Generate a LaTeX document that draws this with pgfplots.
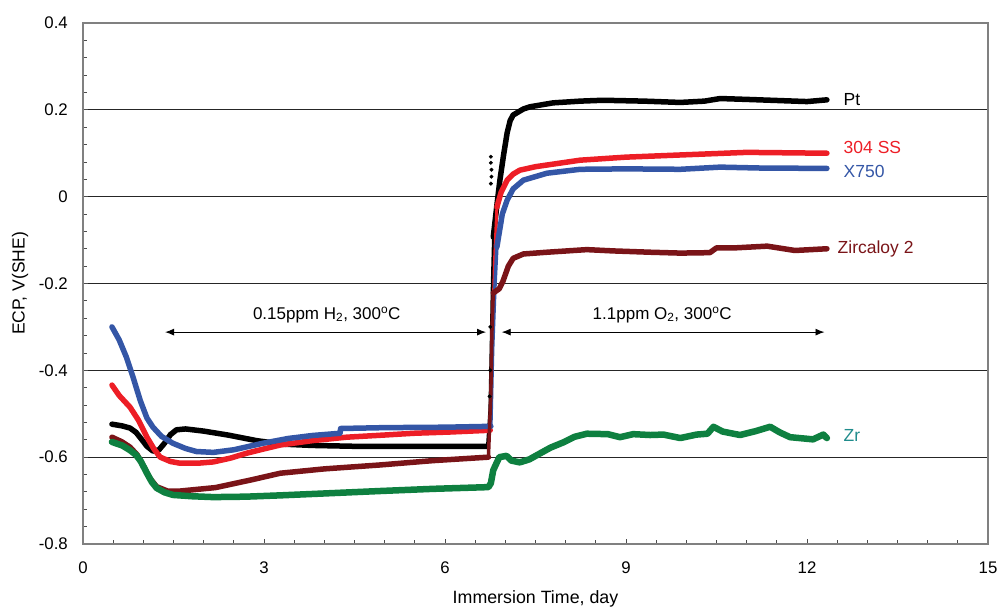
\documentclass[border=0pt]{standalone}
\usepackage{fontspec}
\setmainfont{Liberation Sans}
\usepackage{pgfplots}
\pgfplotsset{compat=1.18}
\usetikzlibrary{arrows.meta}
\definecolor{cred}{RGB}{237,30,38}
\definecolor{cblue}{RGB}{52,86,166}
\definecolor{cmaroon}{RGB}{122,20,24}
\definecolor{cgreen}{RGB}{14,128,64}
\definecolor{zrlab}{RGB}{32,140,140}
\begin{document}
\begin{tikzpicture}[font=\fontsize{17}{20}\selectfont]
\path[use as bounding box] (0,0) rectangle (997pt,607pt);
\begin{axis}[
  at={(83pt,63pt)}, anchor=south west,
  width=905pt, height=521pt, scale only axis,
  xmin=0, xmax=15, ymin=-0.8, ymax=0.4,
  xtick={0,3,6,9,12,15},
  ytick={-0.8,-0.6,-0.4,-0.2,0,0.2,0.4},
  minor x tick num=5, minor y tick num=4,
  major tick length=5pt, minor tick length=4pt,
  tick align=inside,
  xtick pos=bottom, ytick pos=left,
  ymajorgrids,
  grid style={black!85, line width=0.8pt},
  axis line style={black!50, line width=1.3pt},
  tick style={black!70, line width=0.8pt},
  /pgf/number format/assume math mode=true,
  tick label style={font=\fontsize{16.8}{20}\selectfont},
  yticklabel style={inner sep=0pt, anchor=east, xshift=-15pt},
  xticklabel style={inner sep=0pt, anchor=center, yshift=-24pt},
  xlabel={Immersion Time, day},
  ylabel={ECP, V(SHE)},
  xlabel style={at={(axis description cs:0.5,0)}, anchor=center, yshift=-55pt, font=\fontsize{17.8}{20}\selectfont},
  ylabel style={at={(axis description cs:0,0.5)}, anchor=center, yshift=63pt, font=\fontsize{17.5}{20}\selectfont},
  every axis plot/.append style={line join=round, line cap=round, no markers},
]
% Pt
\addplot[black, line width=5.5pt] coordinates {
(0.48,-0.524) (0.65,-0.528) (0.78,-0.533) (0.88,-0.543) (0.96,-0.557) (1.06,-0.575) (1.16,-0.586) (1.26,-0.583) (1.35,-0.568) (1.45,-0.548) (1.55,-0.537) (1.7,-0.535) (2.0,-0.540) (2.4,-0.549) (2.88,-0.562) (3.3,-0.570) (3.8,-0.573) (4.5,-0.575) (5.5,-0.575) (6.7,-0.575)
};
\addplot[black, line width=2.5pt] coordinates {
(6.7,-0.575) (6.74,-0.49) (6.76,-0.35) (6.78,-0.2) (6.8,-0.093)
};
\addplot[black, line width=5.5pt] coordinates {
(6.8,-0.093) (6.86,-0.02) (6.91,0.038) (6.97,0.095) (7.03,0.147) (7.08,0.175) (7.13,0.188) (7.3,0.202) (7.41,0.207) (7.79,0.216) (8.24,0.220) (8.62,0.222) (9.3,0.220) (9.9,0.217) (10.3,0.220) (10.56,0.226) (11.0,0.224) (11.6,0.221) (12.0,0.219) (12.33,0.223)
};
\addplot[black, only marks, mark=*, mark size=1.8pt] coordinates {
(6.76,0.092) (6.76,0.078) (6.77,0.062) (6.77,0.046) (6.76,0.03) (6.75,-0.3) (6.75,-0.4) (6.74,-0.46)
};
% 304 SS
\addplot[cred, line width=5.5pt] coordinates {
(0.48,-0.434) (0.6,-0.458) (0.78,-0.485) (0.92,-0.515) (1.06,-0.554) (1.18,-0.582) (1.28,-0.600) (1.45,-0.610) (1.61,-0.614) (1.9,-0.614) (2.16,-0.611) (2.45,-0.602) (2.71,-0.591) (3.0,-0.581) (3.27,-0.572) (3.8,-0.562) (4.37,-0.554) (5.0,-0.549) (5.48,-0.545) (6.1,-0.542) (6.75,-0.538)
};
\addplot[cred, line width=3pt] coordinates {
(6.75,-0.538) (6.78,-0.35) (6.82,-0.15) (6.86,-0.024)
};
\addplot[cred, line width=5.5pt] coordinates {
(6.86,-0.024) (6.93,0.01) (7.03,0.038) (7.13,0.052) (7.24,0.061) (7.5,0.069) (8.24,0.084) (9.0,0.091) (9.9,0.096) (11.0,0.102) (12.33,0.100)
};
% X750
\addplot[cblue, line width=5.5pt] coordinates {
(0.48,-0.300) (0.6,-0.33) (0.72,-0.37) (0.83,-0.416) (0.95,-0.47) (1.06,-0.51) (1.16,-0.531) (1.3,-0.552) (1.49,-0.568) (1.7,-0.580) (1.88,-0.587) (2.16,-0.589) (2.5,-0.583) (2.98,-0.568) (3.4,-0.557) (3.81,-0.550) (4.26,-0.545) (4.27,-0.534) (5.0,-0.532) (6.0,-0.531) (6.76,-0.529)
};
\addplot[cblue, line width=3.5pt] coordinates {
(6.76,-0.529) (6.79,-0.35) (6.83,-0.2) (6.86,-0.116)
};
\addplot[cblue, line width=5.5pt] coordinates {
(6.86,-0.116) (6.95,-0.04) (7.03,-0.008) (7.13,0.018) (7.3,0.038) (7.69,0.054) (8.24,0.063) (9.0,0.064) (9.9,0.063) (10.56,0.068) (11.2,0.066) (12.33,0.065)
};
% Zircaloy 2
\addplot[cmaroon, line width=5.5pt] coordinates {
(0.48,-0.554) (0.65,-0.565) (0.78,-0.577) (0.9,-0.595) (1.0,-0.62) (1.1,-0.647) (1.22,-0.668) (1.4,-0.678) (1.61,-0.678) (2.2,-0.670) (2.8,-0.652) (3.27,-0.637) (4.0,-0.627) (4.92,-0.618) (5.8,-0.608) (6.72,-0.600)
};
\addplot[cmaroon, line width=3.5pt] coordinates {
(6.72,-0.600) (6.76,-0.45) (6.78,-0.3) (6.8,-0.222)
};
\addplot[cmaroon, line width=5.5pt] coordinates {
(6.8,-0.222) (6.9,-0.212) (6.96,-0.195) (7.05,-0.16) (7.13,-0.142) (7.3,-0.132) (7.69,-0.128) (8.35,-0.122) (8.79,-0.125) (9.4,-0.128) (9.9,-0.130) (10.39,-0.129) (10.5,-0.118) (10.8,-0.118) (11.34,-0.114) (11.8,-0.124) (12.33,-0.120)
};
% Zr
\addplot[cgreen, line width=6.5pt] coordinates {
(0.48,-0.565) (0.65,-0.573) (0.78,-0.584) (0.88,-0.595) (0.96,-0.610) (1.06,-0.637) (1.14,-0.657) (1.22,-0.671) (1.35,-0.681) (1.49,-0.687) (1.8,-0.690) (2.16,-0.692) (2.7,-0.691) (3.27,-0.688) (4.1,-0.683) (4.92,-0.678) (5.8,-0.673) (6.72,-0.669) (6.76,-0.66) (6.8,-0.63) (6.85,-0.615) (6.9,-0.600) (7.02,-0.597) (7.1,-0.608) (7.24,-0.612) (7.4,-0.605) (7.58,-0.591) (7.75,-0.578) (7.96,-0.566) (8.15,-0.553) (8.35,-0.546) (8.7,-0.547) (8.9,-0.554) (9.12,-0.547) (9.4,-0.549) (9.62,-0.548) (9.9,-0.556) (10.17,-0.548) (10.35,-0.546) (10.45,-0.530) (10.6,-0.541) (10.89,-0.549) (11.15,-0.540) (11.39,-0.530) (11.55,-0.543) (11.72,-0.554) (12.1,-0.559) (12.27,-0.548) (12.33,-0.556)
};
% annotations
\draw[black, line width=0.9pt, {Latex[length=9pt,width=7pt]}-{Latex[length=9pt,width=7pt]}] (axis cs:1.36,-0.312) -- (axis cs:6.68,-0.312);
\draw[black, line width=0.9pt, {Latex[length=9pt,width=7pt]}-{Latex[length=9pt,width=7pt]}] (axis cs:6.94,-0.312) -- (axis cs:12.29,-0.312);
\node[anchor=center] at (axis cs:4.04,-0.272) {0.15ppm H\textsubscript{2}, 300\textsuperscript{o}C};
\node[anchor=center] at (axis cs:9.6,-0.272) {1.1ppm O\textsubscript{2}, 300\textsuperscript{o}C};
\begin{scope}[font=\fontsize{17.5}{20}\selectfont]
\node[anchor=west, text=black] at (axis cs:12.55,0.223) {Pt};
\node[anchor=west, text=cred] at (axis cs:12.55,0.114) {304 SS};
\node[anchor=west, text=cblue] at (axis cs:12.55,0.057) {X750};
\node[anchor=west, text=cmaroon] at (axis cs:12.45,-0.121) {Zircaloy 2};
\node[anchor=west, text=zrlab] at (axis cs:12.55,-0.549) {Zr};
\end{scope}
\end{axis}
\end{tikzpicture}
\end{document}
